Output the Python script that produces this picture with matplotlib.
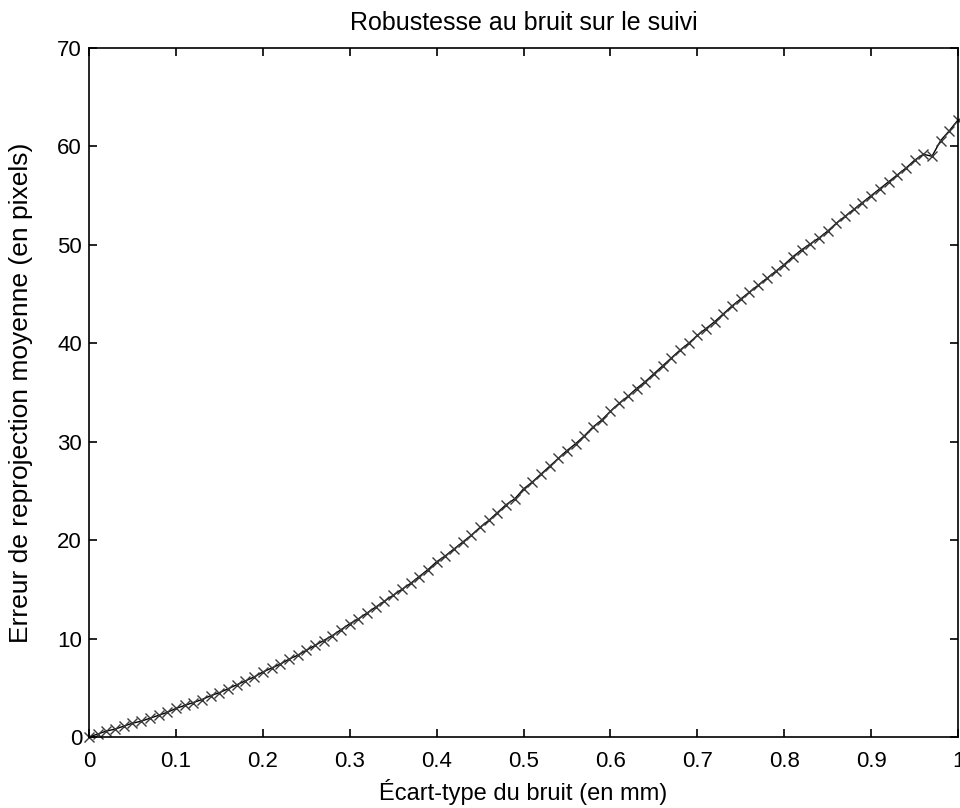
import matplotlib.pyplot as plt

# noise std (mm) vs mean reprojection error (pixels)
bruit = [i / 100 for i in range(101)]
erreur = [
    0.0, 0.3, 0.6, 0.8, 1.1, 1.4, 1.6, 1.9, 2.2, 2.5,
    2.9, 3.2, 3.5, 3.8, 4.2, 4.5, 4.9, 5.3, 5.7, 6.1,
    6.6, 7.0, 7.4, 7.9, 8.3, 8.8, 9.3, 9.8, 10.3, 10.9,
    11.5, 12.0, 12.6, 13.2, 13.8, 14.4, 15.0, 15.6, 16.3, 17.0,
    17.8, 18.4, 19.1, 19.8, 20.5, 21.3, 22.0, 22.8, 23.6, 24.2,
    25.2, 25.9, 26.7, 27.5, 28.3, 29.1, 29.8, 30.6, 31.5, 32.2,
    33.1, 33.9, 34.6, 35.4, 36.1, 36.9, 37.7, 38.5, 39.3, 40.0,
    40.8, 41.5, 42.2, 43.0, 43.8, 44.5, 45.2, 45.9, 46.6, 47.3,
    48.0, 48.8, 49.5, 50.1, 50.7, 51.4, 52.2, 52.9, 53.6, 54.3,
    55.0, 55.7, 56.4, 57.1, 57.8, 58.6, 59.2, 59.0, 60.6, 61.6,
    62.7,
]
xticks = [0, 0.1, 0.2, 0.3, 0.4, 0.5, 0.6, 0.7, 0.8, 0.9, 1]
xticklabels = ['0', '0.1', '0.2', '0.3', '0.4', '0.5', '0.6', '0.7', '0.8', '0.9', '1']
yticks = [0, 10, 20, 30, 40, 50, 60, 70]

plt.rcParams['font.family'] = ['Liberation Sans', 'DejaVu Sans']

fig = plt.figure(figsize=(9.6, 8.08), dpi=100)
ax = fig.add_axes([0.0927, 0.0879, 0.9053, 0.8527])

ax.plot(bruit, erreur, color='black', lw=1.0, marker='x', ms=7.5,
        mec='#3a3a3a', mew=1.0, clip_on=False)

ax.set_xlim(0, 1)
ax.set_ylim(0, 70)
ax.set_xticks(xticks)
ax.set_xticklabels(xticklabels)
ax.set_yticks(yticks)
ax.tick_params(axis='x', pad=10)
ax.tick_params(axis='y', pad=5)
ax.tick_params(direction='in', length=6, width=1.2, labelsize=16,
               top=True, right=True)
for sp in ax.spines.values():
    sp.set_linewidth(1.2)

ax.set_title('Robustesse au bruit sur le suivi', fontsize=18, pad=13)
ax.set_xlabel('Écart-type du bruit (en mm)', fontsize=17, labelpad=5)
ax.set_ylabel('Erreur de reprojection moyenne (en pixels)', fontsize=19)
ax.yaxis.set_label_coords(-0.064, 0.5)

fig.savefig('out.png', dpi=100)
